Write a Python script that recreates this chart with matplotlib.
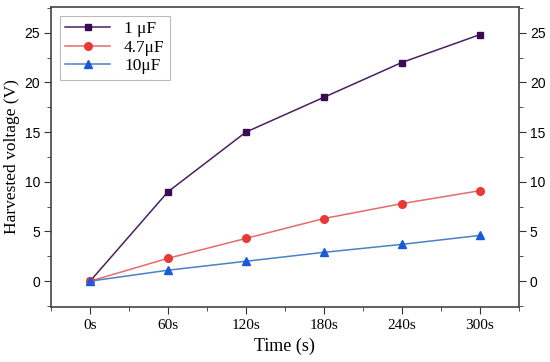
import matplotlib
matplotlib.use("Agg")
import matplotlib.pyplot as plt
from matplotlib.ticker import MultipleLocator

# donnees
temps = [0, 60, 120, 180, 240, 300]
labels_temps = ["0s", "60s", "120s", "180s", "240s", "300s"]
v_1uF = [0, 9.0, 15.0, 18.5, 22.0, 24.8]
v_47uF = [0, 2.3, 4.3, 6.3, 7.8, 9.1]
v_10uF = [0, 1.1, 2.0, 2.9, 3.7, 4.6]

serif = "Liberation Serif"
sans = "Liberation Sans"

fig = plt.figure(figsize=(5.5, 3.62), dpi=100)
ax = fig.add_axes([0.093, 0.152, 0.85, 0.829])

ax.plot(temps, v_1uF, color="#4a2060", marker="s", markersize=5,
        markerfacecolor="#3a0a55", markeredgecolor="#3a0a55", lw=1.1, label="1 μF")
ax.plot(temps, v_47uF, color="#e86a6a", marker="o", markersize=5.5,
        markerfacecolor="#e83838", markeredgecolor="#e83838", lw=1.1, label="4.7μF")
ax.plot(temps, v_10uF, color="#4a80c8", marker="^", markersize=6,
        markerfacecolor="#1a5ad8", markeredgecolor="#1a5ad8", lw=1.1, label="10μF")

ax.set_xlim(-30, 330)
ax.set_ylim(-2.6, 27.6)
ax.set_xticks(temps)
ax.set_xticklabels(labels_temps)
ax.xaxis.set_minor_locator(MultipleLocator(30))
ax.yaxis.set_major_locator(MultipleLocator(5))
ax.yaxis.set_minor_locator(MultipleLocator(2.5))

ax.tick_params(which="both", direction="out", top=False, right=True,
               labelright=True, color="#333333")
ax.tick_params(which="major", length=5)
ax.tick_params(which="minor", length=3)
ax.tick_params(axis="x", labelfontfamily=serif, labelsize=11)
ax.tick_params(axis="y", labelfontfamily=sans, labelsize=10, pad=3)
for s in ax.spines.values():
    s.set_color("#444444")
    s.set_linewidth(1.2)

ax.set_xlabel("Time (s)", fontfamily=serif, fontsize=13)
ax.set_ylabel("Harvested voltage (V)", fontfamily=serif, fontsize=12.5,
              labelpad=3)

leg = ax.legend(loc="upper left", fancybox=False, edgecolor="#aaaaaa",
                prop={"family": serif, "size": 12.5}, handlelength=2.6,
                borderaxespad=0.5, labelspacing=0.15, borderpad=0.3)
leg.get_frame().set_linewidth(0.8)

fig.savefig("out.png", dpi=100)
